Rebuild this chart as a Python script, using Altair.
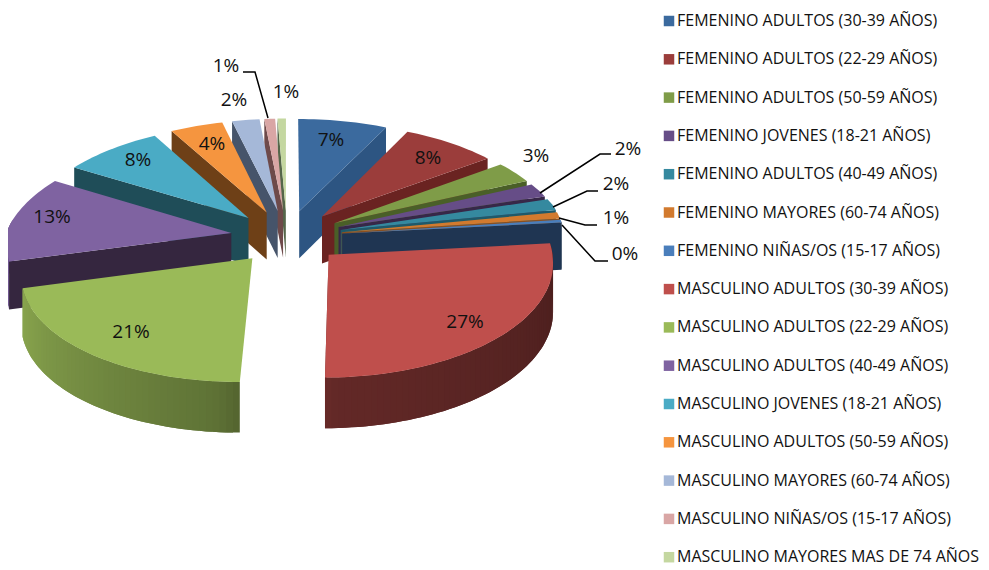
import math
import altair as alt
import numpy as np

# ---- chart values ----
names = [
    "FEMENINO ADULTOS (30-39 AÑOS)", "FEMENINO ADULTOS (22-29 AÑOS)", "FEMENINO ADULTOS (50-59 AÑOS)",
    "FEMENINO JOVENES (18-21 AÑOS)", "FEMENINO ADULTOS (40-49 AÑOS)", "FEMENINO MAYORES (60-74 AÑOS)",
    "FEMENINO NIÑAS/OS (15-17 AÑOS)", "MASCULINO ADULTOS (30-39 AÑOS)", "MASCULINO ADULTOS (22-29 AÑOS)",
    "MASCULINO ADULTOS (40-49 AÑOS)", "MASCULINO JOVENES (18-21 AÑOS)", "MASCULINO ADULTOS (50-59 AÑOS)",
    "MASCULINO MAYORES (60-74 AÑOS)", "MASCULINO NIÑAS/OS (15-17 AÑOS)", "MASCULINO MAYORES MAS DE 74 AÑOS",
]
values = [7.2, 7.7, 3.3, 2.1, 1.8, 1.0, 0.45, 26.9, 21.0, 13.0, 8.2, 4.4, 2.3, 0.9, 0.7]

# ---- styles ----
top_colors = ["#3B6A9E", "#9B3D3B", "#7F9C48", "#664D87", "#35899F", "#D27A2E", "#4A7EBB", "#BF4F4C",
              "#9ABA58", "#7F63A1", "#4AABC5", "#F5953F", "#A5B8D8", "#D9A6A5", "#C4D7A0"]
wall_colors = ["#2D5582", "#6A2321", "#4A5F28", "#372848", "#1E5A6A", "#8A5020", "#1F3552", "#6B2826",
               "#8AA34E", "#35263F", "#1F4D58", "#6E4017", "#46546A", "#6E4A4A", "#55664A"]
label_font = "Open Sans"

# ---- layout of the perspective pie (page pixels, minus the 8px page margin) ----
CX, CY, RX, RY, PERSP, DEPTH, EXPLODE = 287 - 8, 236.7 - 8, 226, 106.5, 0.101, 47.5, 0.25
RIM_SHADE_ANGLE = [80, 178, 186, 257, 300]
RIM_SHADE_VALUE = [0.38, 0.52, 0.62, 0.90, 0.9]

label_x = [331, 428, 536, 628, 616, 616, 625, 465, 131, 52, 138, 212, 234, 226, 286]
label_y = [140, 158, 156, 149, 184, 218, 254, 322, 332, 217, 160, 144, 100, 66, 92]
leaders = [
    [[540, 193], [600, 154], [611, 154]],
    [[553, 207], [587, 191], [598, 191]],
    [[559, 218], [585, 225], [597, 225]],
    [[562, 225], [595, 261], [608, 261]],
    [[243, 72], [255, 72], [268, 118]],
]


def proj(X, Y, down=False):
    w = 1 + PERSP * Y
    wx = w
    if X < 0 and Y > 0:           # far left narrows a little faster
        wx = 1 + 0.135 * Y
    if X > 0:
        sx = 1 - 0.028 * min(max((0.3 - Y) / 0.5, 0), 1)
    else:
        sx = 1 - 0.01 * min(max(-Y * 5, 0), 1)
    x = CX + RX * sx * X / wx
    x += 9 * min(Y + 0.2, 0)      # the near edge leans to the left
    y = CY - RY * Y / w
    if down:
        y += DEPTH / math.sqrt(w)
    return [round(x, 2), round(y, 2)]


def shade(hex_color, k):
    r, g, b = [int(hex_color[i:i + 2], 16) for i in (1, 3, 5)]
    return "#%02x%02x%02x" % (int(r * k), int(g * k), int(b * k))


def feature(coords, **props):
    ring = coords + [coords[0]]
    return {"type": "Feature", "properties": props,
            "geometry": {"type": "Polygon", "coordinates": [ring]}}


total = sum(values)
starts = np.cumsum([0] + values[:-1]) / total * 360
spans = np.array(values) / total * 360

slices = []
for i, name in enumerate(names):
    slices.append((i, name, float(starts[i]), float(starts[i] + spans[i])))
slices.sort(key=lambda s: -math.cos(math.radians((s[2] + s[3]) / 2)))

side_features, top_features = [], []
for i, name, t1, t2 in slices:
    m = math.radians((t1 + t2) / 2)
    ox, oy = EXPLODE * math.sin(m), EXPLODE * math.cos(m)

    def rim_point(t, down=False):
        a = math.radians(t)
        return proj(ox + math.sin(a), oy + math.cos(a), down)

    apex, apex_d = proj(ox, oy), proj(ox, oy, True)
    n = max(2, int((t2 - t1) / 1.5) + 1)
    arc = list(np.linspace(t1, t2, n))

    # rim: short overlapping quads, each with its own shade, drawn in order
    for j in range(len(arc) - 1):
        a, b = arc[j], arc[min(j + 2, len(arc) - 1)]
        mid = (arc[j] + arc[j + 1]) / 2
        if math.cos(math.radians(mid)) < 0.12:
            k = float(np.interp(mid, RIM_SHADE_ANGLE, RIM_SHADE_VALUE))
            c = shade(top_colors[i], k)
            seg = [rim_point(t) for t in np.linspace(a, b, 3)]
            seg += [rim_point(t, True) for t in np.linspace(b, a, 3)]
            side_features.append(feature(seg, color=c))
    # visible cut faces only
    if math.sin(math.radians(t2)) > 0:
        side_features.append(feature([apex, rim_point(t2), rim_point(t2, True), apex_d], color=wall_colors[i]))
    if math.sin(math.radians(t1)) < 0:
        side_features.append(feature([apex, rim_point(t1), rim_point(t1, True), apex_d], color=wall_colors[i]))

    top_features.append(feature([apex] + [rim_point(t) for t in arc], name=name))

identity = dict(type="identity", scale=1, translate=[0, 0])

sides = alt.Chart(alt.Data(values=side_features)).mark_geoshape(strokeWidth=0).encode(
    fill=alt.Fill("properties.color:N", scale=None),
).project(**identity)

tops = alt.Chart(alt.Data(values=top_features)).mark_geoshape(strokeWidth=0).encode(
    fill=alt.Fill(
        "properties.name:N",
        scale=alt.Scale(domain=names, range=top_colors),
        legend=alt.Legend(
            title=None, orient="none", legendX=653, legendY=5, symbolType="square", symbolSize=110,
            symbolStrokeWidth=0, labelFont=label_font, labelFontSize=16, labelColor="#111111",
            labelLimit=400, rowPadding=22.3, labelOffset=0, columns=1,
        ),
    )
).project(**identity)

leader_features = [
    {"type": "Feature", "properties": {},
     "geometry": {"type": "LineString", "coordinates": [[p[0] - 8, p[1] - 8] for p in line]}}
    for line in leaders
]
leader_layer = alt.Chart(alt.Data(values=leader_features)).mark_geoshape(
    filled=False, stroke="#000000", strokeWidth=1.5).project(**identity)

label_rows = [
    {"lon": x - 8, "lat": y - 8, "text": f"{round(v)}%"}
    for x, y, v in zip(label_x, label_y, values)
]
labels = alt.Chart(alt.Data(values=label_rows)).mark_text(
    font=label_font, fontSize=19, color="#111111", align="center", baseline="middle"
).encode(longitude="lon:Q", latitude="lat:Q", text="text:N").project(**identity)

chart = alt.layer(sides, tops, leader_layer, labels).resolve_scale(fill="independent").properties(
    width=973, height=560, padding=0, autosize=alt.AutoSizeParams(type="none"),
).configure_view(stroke=None)

chart.save("out.html", embed_options={"renderer": "svg", "actions": False})
